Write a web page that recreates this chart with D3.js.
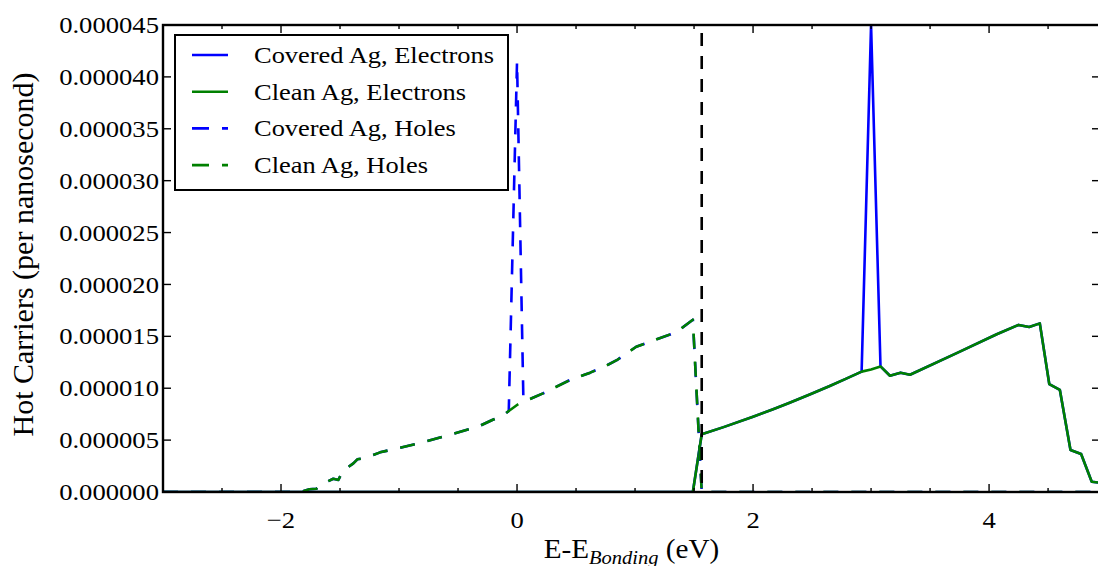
<!DOCTYPE html>
<html>
<head>
<meta charset="UTF-8">
<title>Hot carriers</title>
<script src="https://d3js.org/d3.v7.min.js"></script>
<style>
  body { margin: 0; background: #fff; }
  svg text { font-family: "Liberation Serif", "DejaVu Serif", serif; fill: #000; }
</style>
</head>
<body>
<div id="chart"></div>
<script>
// energies (eV) and rates (in units of 1e-6 per ns)
var holeE = [-3.0, -1.84, -1.76, -1.70, -1.655, -1.557, -1.514, -1.477, -1.387, -1.353, -1.288,
             -1.16, -0.81, -0.57, -0.33, -0.21, -0.116, -0.07, 0.0, 0.054, 0.11, 0.22, 0.45,
             0.62, 0.76, 0.845, 1.01, 1.13, 1.35, 1.49, 1.565, 4.94];
var cleanHoles = [0, 0, 0.26, 0.32, 0.74, 1.28, 1.16, 2.02, 2.76, 3.15, 3.28,
                  3.82, 4.75, 5.52, 6.29, 6.94, 7.4, 7.8, 8.38, 8.8, 8.96, 9.5, 10.8,
                  11.5, 12.2, 12.7, 14.0, 14.5, 15.4, 16.6, 0, 0];
var coveredHoles = [0, 0, 0.26, 0.32, 0.74, 1.28, 1.16, 2.02, 2.76, 3.15, 3.28,
                    3.82, 4.75, 5.52, 6.29, 6.94, 7.4, 7.8, 41.5, 8.8, 8.96, 9.5, 10.8,
                    11.5, 12.2, 12.7, 14.0, 14.5, 15.4, 16.6, 0, 0];

var elecE = [-3.0, 1.49, 1.565, 1.75, 2.0, 2.17, 2.31, 2.48, 2.65, 2.79, 2.92, 3.0, 3.08,
             3.16, 3.25, 3.33, 3.73, 4.065, 4.25, 4.34, 4.43, 4.51, 4.60, 4.69, 4.78, 4.87, 4.94];
var cleanElectrons = [0, 0, 5.56, 6.25, 7.25, 7.97, 8.6, 9.39, 10.21, 10.92, 11.6, 11.8, 12.1,
                      11.2, 11.5, 11.3, 13.4, 15.2, 16.1, 15.9, 16.25, 10.4, 9.83, 4.05, 3.66, 0.99, 0.9];
var coveredElectrons = [0, 0, 5.56, 6.25, 7.25, 7.97, 8.6, 9.39, 10.21, 10.92, 11.6, 45.0, 12.1,
                        11.2, 11.5, 11.3, 13.4, 15.2, 16.1, 15.9, 16.25, 10.4, 9.83, 4.05, 3.66, 0.99, 0.9];

var bondingLine = 1.565;
var xTicks = [-2, 0, 2, 4];
var xMinor = [-2.5, -1.5, -1, -0.5, 0.5, 1, 1.5, 2.5, 3, 3.5, 4.5];
var yTicks = [0, 5, 10, 15, 20, 25, 30, 35, 40, 45];
var legendNames = ["Covered Ag, Electrons", "Clean Ag, Electrons", "Covered Ag, Holes", "Clean Ag, Holes"];

var width = 1098, height = 566;
var plotLeft = 163, plotRight = 1100, plotTop = 25, plotBottom = 492;
var dash = "15,13";
var serif = "'Liberation Serif', 'DejaVu Serif', serif";

var svg = d3.select("#chart").append("svg")
    .attr("width", width)
    .attr("height", height)
    .attr("font-family", serif);

var x = d3.scaleLinear().domain([-3, 4.94]).range([plotLeft, plotRight]);
var y = d3.scaleLinear().domain([0, 45e-6]).range([plotBottom, plotTop]);

svg.append("clipPath").attr("id", "plot-clip")
  .append("rect")
    .attr("x", plotLeft).attr("y", plotTop)
    .attr("width", plotRight - plotLeft).attr("height", plotBottom - plotTop);

var line = d3.line()
    .x(function(d) { return x(d[0]); })
    .y(function(d) { return y(d[1] * 1e-6); });

function pairs(xs, ys) {
  return xs.map(function(v, i) { return [v, ys[i]]; });
}

var series = [
  { name: legendNames[0], data: pairs(elecE, coveredElectrons), color: "#0000ff", dash: null },
  { name: legendNames[1], data: pairs(elecE, cleanElectrons), color: "#008000", dash: null },
  { name: legendNames[2], data: pairs(holeE, coveredHoles), color: "#0000ff", dash: dash },
  { name: legendNames[3], data: pairs(holeE, cleanHoles), color: "#008000", dash: dash }
];

var plot = svg.append("g").attr("clip-path", "url(#plot-clip)");

plot.selectAll("path.curve")
  .data(series)
  .enter()
  .append("path")
    .attr("class", "curve")
    .attr("d", function(d) { return line(d.data); })
    .attr("fill", "none")
    .attr("stroke", function(d) { return d.color; })
    .attr("stroke-width", 2.6)
    .attr("stroke-dasharray", function(d) { return d.dash; })
    .attr("stroke-linejoin", "round");

// dashed marker at the bonding energy
plot.append("line")
    .attr("x1", x(bondingLine)).attr("x2", x(bondingLine))
    .attr("y1", plotTop + 8).attr("y2", plotBottom)
    .attr("stroke", "#000")
    .attr("stroke-width", 2.6)
    .attr("stroke-dasharray", "13,10");

// ticks point inward on all four sides
var ticks = svg.append("g").attr("stroke", "#000").attr("stroke-width", 1.4);
xTicks.concat(xMinor).forEach(function(t) {
  var len = xTicks.indexOf(t) >= 0 ? 8 : 4;
  ticks.append("line").attr("x1", x(t)).attr("x2", x(t)).attr("y1", plotBottom).attr("y2", plotBottom - len);
  ticks.append("line").attr("x1", x(t)).attr("x2", x(t)).attr("y1", plotTop).attr("y2", plotTop + len);
});
yTicks.forEach(function(t) {
  ticks.append("line").attr("x1", plotLeft).attr("x2", plotLeft + 8).attr("y1", y(t * 1e-6)).attr("y2", y(t * 1e-6));
  ticks.append("line").attr("x1", plotRight).attr("x2", plotRight - 8).attr("y1", y(t * 1e-6)).attr("y2", y(t * 1e-6));
});

svg.append("rect")
    .attr("x", plotLeft).attr("y", plotTop)
    .attr("width", plotRight - plotLeft).attr("height", plotBottom - plotTop)
    .attr("fill", "none")
    .attr("stroke", "#000")
    .attr("stroke-width", 2.4);

// tick labels
var fmtY = d3.format(".6f");
var fmtX = d3.format("d");
svg.selectAll("g.ylab")
  .data(yTicks)
  .enter()
  .append("g")
    .attr("transform", function(d) { return "translate(159," + y(d * 1e-6) + ") scale(1.11,1)"; })
  .append("text")
    .attr("text-anchor", "end")
    .attr("dy", "0.34em")
    .style("font-size", "24px")
    .text(function(d) { return fmtY(d * 1e-6); });

svg.selectAll("g.xlab")
  .data(xTicks)
  .enter()
  .append("g")
    .attr("transform", function(d) { return "translate(" + x(d) + ",528) scale(1.11,1)"; })
  .append("text")
    .attr("text-anchor", "middle")
    .style("font-size", "24px")
    .text(function(d) { return fmtX(d); });

// axis titles
var xt = svg.append("g")
    .attr("transform", "translate(" + ((plotLeft + plotRight) / 2) + ",558) scale(1.08,1)")
  .append("text")
    .attr("text-anchor", "middle")
    .style("font-size", "27px");
xt.append("tspan").text("E-E");
xt.append("tspan").attr("dy", 6).style("font-size", "19px").style("font-style", "italic").text("Bonding");
xt.append("tspan").attr("dy", -6).text(" (eV)");

svg.append("text")
    .attr("transform", "translate(33," + ((plotTop + plotBottom) / 2 - 4) + ") rotate(-90)")
    .attr("text-anchor", "middle")
    .style("font-size", "30px")
    .text("Hot Carriers (per nanosecond)");

// legend
var legend = svg.append("g");
legend.append("rect")
    .attr("x", 175).attr("y", 35)
    .attr("width", 333).attr("height", 155)
    .attr("fill", "#fff")
    .attr("stroke", "#000")
    .attr("stroke-width", 2);

var rows = legend.selectAll("g.row")
  .data(series)
  .enter()
  .append("g")
    .attr("transform", function(d, i) { return "translate(0," + (55 + i * 36.7) + ")"; });

rows.append("line")
    .attr("x1", 192).attr("x2", 228)
    .attr("stroke", function(d) { return d.color; })
    .attr("stroke-width", 2.6)
    .attr("stroke-dasharray", function(d) { return d.dash ? "17,13" : null; });

rows.append("g")
    .attr("transform", "translate(254,0) scale(1.15,1)")
  .append("text")
    .attr("dy", "0.34em")
    .style("font-size", "23px")
    .text(function(d) { return d.name; });
</script>
</body>
</html>
